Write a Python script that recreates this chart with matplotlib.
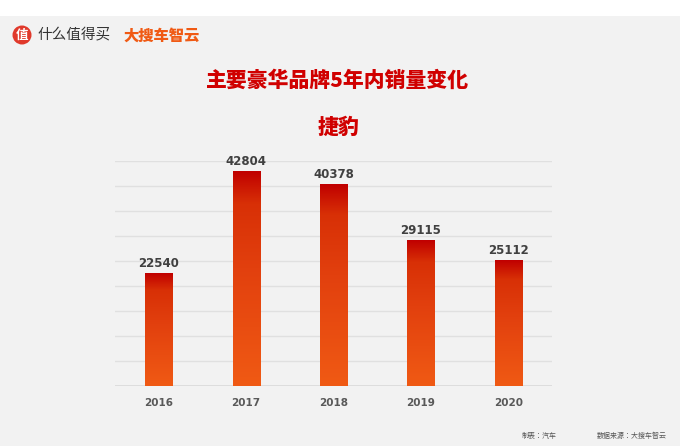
import numpy as np
import matplotlib.pyplot as plt
from matplotlib.colors import LinearSegmentedColormap
from matplotlib.patches import Rectangle, Ellipse
from matplotlib.font_manager import FontProperties

years = ["2016", "2017", "2018", "2019", "2020"]
sales = [22540, 42804, 40378, 29115, 25112]

cjk = "/usr/share/fonts/opentype/noto/NotoSansCJK-Regular.ttc"
cjk_b = "/usr/share/fonts/opentype/noto/NotoSansCJK-Bold.ttc"
cjk_k = "/usr/share/fonts/opentype/noto/NotoSansCJK-Black.ttc"

fig = plt.figure(figsize=(6.8, 4.46), dpi=100)
fig.patch.set_facecolor("white")
# gray panel
fig.patches.append(Rectangle((0, 0), 1, 1 - 16 / 446, transform=fig.transFigure,
                             facecolor="#f2f2f2", edgecolor="none", zorder=-10))

ax = fig.add_axes([115 / 680, 60 / 446, 437 / 680, 225 / 446])
ax.set_facecolor("none")
for v in range(5000, 45001, 5000):
    ax.axhline(v, color="#e0e0e0", lw=1, zorder=0)
ax.axhline(0, color="#d9d9d9", lw=1.2, zorder=0)

cmap = LinearSegmentedColormap.from_list(
    "g", [(0, "#f05a14"), (0.55, "#e2400e"), (0.85, "#d83006"), (1, "#c00000")])
grad = np.linspace(0, 1, 256).reshape(-1, 1)
w = 0.31
for i, v in enumerate(sales):
    ax.imshow(grad, cmap=cmap, origin="lower", aspect="auto",
              extent=(i - w / 2, i + w / 2, 0, v), zorder=2)
    ax.text(i, v + 700, str(v), ha="center", va="bottom", fontsize=8.5,
            fontweight="bold", color="#404040", family="DejaVu Sans")
ax.set_xlim(-0.5, 4.5)
ax.set_ylim(0, 45000)
ax.set_xticks(range(5))
ax.set_xticklabels(years, fontsize=7.5, fontweight="bold", color="#595959",
                   family="DejaVu Sans")
ax.tick_params(length=0, pad=9)
ax.set_yticks([])
for s in ax.spines.values():
    s.set_visible(False)

# titles
for txt, y in [("主要豪华品牌5年内销量变化", 80), ("捷豹", 128)]:
    fig.text(338 / 680, 1 - y / 446, txt, ha="center", va="center",
             fontproperties=FontProperties(fname=cjk_k, size=15), color="#d00000")

# header logos
fig.patches.append(Ellipse((22 / 680, 1 - 35 / 446), 19 / 680, 19 / 446,
                           transform=fig.transFigure, facecolor="#e0392b",
                           edgecolor="none"))
fig.text(22 / 680, 1 - 35.5 / 446, "值", ha="center", va="center",
         fontproperties=FontProperties(fname=cjk_b, size=9), color="white")
fig.text(37 / 680, 1 - 35 / 446, "什么值得买", ha="left", va="center",
         fontproperties=FontProperties(fname=cjk, size=10.5), color="#333333")
fig.text(123 / 680, 1 - 36 / 446, "大搜车智云", ha="left", va="center",
         fontproperties=FontProperties(fname=cjk_k, size=11, style="italic"),
         color="#f05a14")

# footer
fig.text(522 / 680, 1 - 436 / 446, "制表：汽车", ha="left", va="center",
         fontproperties=FontProperties(fname=cjk, size=5), color="#555555")
fig.text(597 / 680, 1 - 436 / 446, "数据来源：大搜车智云", ha="left", va="center",
         fontproperties=FontProperties(fname=cjk, size=5), color="#555555")

fig.savefig("out.png", dpi=100, facecolor=fig.get_facecolor())
